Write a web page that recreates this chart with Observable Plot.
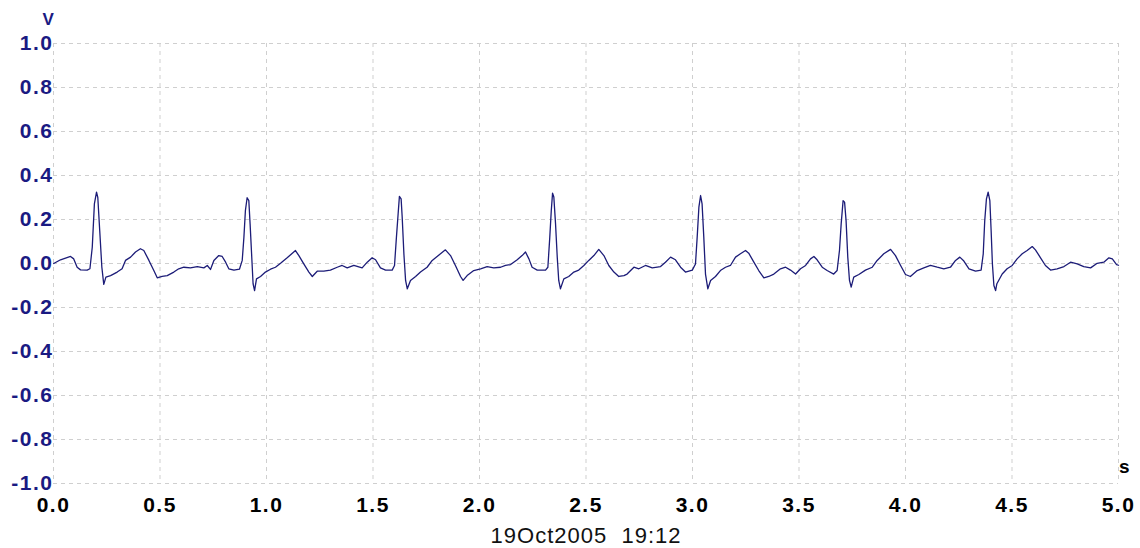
<!DOCTYPE html>
<html>
<head>
<meta charset="utf-8">
<script src="https://cdn.jsdelivr.net/npm/d3@7"></script>
<script src="https://cdn.jsdelivr.net/npm/@observablehq/plot@0.6"></script>
<style>
  html, body { margin: 0; padding: 0; background: #fff; }
  #chart svg text { white-space: pre; }
  #chart g[aria-label="x-axis tick label"] text,
  #chart g[aria-label="y-axis tick label"] text { letter-spacing: 1.5px; }
  #chart .caption text { letter-spacing: 1px; }
</style>
</head>
<body>
<div id="chart"></div>
<script>
// Time (s) and voltage (V)
const timeS = [
  0.001,0.033,0.080,0.095,0.111,0.127,0.158,0.171,0.182,0.192,0.202,0.208,0.217,0.227,0.236,0.246,0.268,0.299,0.322,0.338,
  0.362,0.385,0.408,0.424,0.448,0.471,0.487,0.510,0.534,0.565,0.588,0.612,0.643,0.675,0.706,0.722,0.737,0.753,0.776,0.792,
  0.808,0.823,0.847,0.873,0.886,0.894,0.901,0.909,0.917,0.923,0.930,0.937,0.944,0.953,0.972,0.995,1.019,1.042,1.066,1.097,
  1.136,1.152,1.175,1.199,1.215,1.238,1.269,1.300,1.332,1.355,1.379,1.410,1.449,1.473,1.496,1.512,1.535,1.559,1.590,1.601,
  1.610,1.618,1.624,1.632,1.637,1.645,1.653,1.661,1.676,1.700,1.723,1.754,1.778,1.801,1.840,1.864,1.887,1.911,1.923,1.942,
  1.973,2.005,2.036,2.067,2.099,2.122,2.146,2.177,2.200,2.216,2.232,2.247,2.271,2.310,2.321,2.330,2.337,2.343,2.349,2.357,
  2.365,2.372,2.380,2.396,2.419,2.443,2.466,2.490,2.513,2.537,2.560,2.584,2.607,2.631,2.654,2.678,2.693,2.725,2.748,2.779,
  2.811,2.850,2.873,2.897,2.920,2.944,2.967,2.999,3.014,3.022,3.030,3.038,3.045,3.053,3.061,3.072,3.085,3.108,3.131,3.155,
  3.178,3.202,3.225,3.249,3.264,3.288,3.311,3.335,3.358,3.382,3.413,3.437,3.460,3.484,3.507,3.531,3.554,3.570,3.585,3.609,
  3.632,3.663,3.679,3.690,3.698,3.707,3.714,3.721,3.729,3.737,3.745,3.757,3.781,3.812,3.844,3.867,3.898,3.930,3.953,3.977,
  4.000,4.023,4.055,4.086,4.117,4.149,4.180,4.211,4.235,4.255,4.274,4.298,4.329,4.355,4.365,4.372,4.380,4.388,4.396,4.402,
  4.408,4.415,4.423,4.429,4.454,4.477,4.501,4.524,4.548,4.571,4.595,4.610,4.634,4.657,4.681,4.712,4.744,4.775,4.806,4.837,
  4.869,4.900,4.931,4.955,4.971,4.991,5.000
];
const voltage = [
  0.000,0.017,0.032,0.021,-0.017,-0.029,-0.030,-0.024,0.074,0.271,0.324,0.300,0.150,-0.017,-0.095,-0.062,-0.055,-0.039,-0.024,0.014,
  0.029,0.052,0.067,0.059,0.014,-0.032,-0.065,-0.059,-0.055,-0.039,-0.024,-0.017,-0.020,-0.014,-0.020,-0.009,-0.027,0.014,0.036,0.032,
  0.006,-0.024,-0.030,-0.026,0.014,0.120,0.241,0.299,0.286,0.180,0.044,-0.092,-0.123,-0.070,-0.059,-0.039,-0.026,-0.017,0.001,0.026,
  0.059,0.036,-0.002,-0.039,-0.059,-0.035,-0.035,-0.030,-0.017,-0.009,-0.020,-0.009,-0.020,0.006,0.026,0.017,-0.020,-0.030,-0.030,-0.009,
  0.120,0.226,0.305,0.294,0.211,0.044,-0.077,-0.115,-0.077,-0.059,-0.039,-0.017,0.014,0.032,0.062,0.036,-0.009,-0.059,-0.077,-0.055,
  -0.032,-0.024,-0.014,-0.020,-0.017,-0.009,-0.005,0.017,0.036,0.052,0.021,-0.017,-0.030,-0.030,-0.017,0.120,0.241,0.320,0.302,0.180,
  0.029,-0.077,-0.115,-0.070,-0.059,-0.039,-0.030,-0.009,0.014,0.036,0.064,0.036,-0.009,-0.039,-0.059,-0.055,-0.048,-0.017,-0.024,-0.009,
  -0.020,-0.014,0.006,0.029,0.017,-0.017,-0.039,-0.030,-0.002,0.120,0.256,0.309,0.271,0.120,-0.048,-0.115,-0.077,-0.059,-0.032,-0.017,
  -0.009,0.029,0.044,0.059,0.047,0.006,-0.032,-0.065,-0.059,-0.048,-0.024,-0.017,-0.030,-0.048,-0.024,-0.009,0.021,0.032,0.017,-0.017,
  -0.032,-0.048,-0.032,0.059,0.180,0.286,0.279,0.195,0.029,-0.077,-0.107,-0.062,-0.050,-0.030,-0.017,0.014,0.044,0.064,0.036,-0.009,
  -0.050,-0.059,-0.032,-0.020,-0.009,-0.017,-0.024,-0.017,0.014,0.029,0.011,-0.024,-0.035,-0.030,0.044,0.195,0.294,0.324,0.286,0.150,
  -0.002,-0.100,-0.123,-0.092,-0.048,-0.024,-0.009,0.021,0.044,0.059,0.077,0.062,0.026,-0.009,-0.030,-0.024,-0.014,0.006,-0.002,-0.014,
  -0.020,0.001,0.006,0.026,0.021,-0.005,-0.008
];
const xTicks = [0, 0.5, 1, 1.5, 2, 2.5, 3, 3.5, 4, 4.5, 5];
const yTicks = [-1, -0.8, -0.6, -0.4, -0.2, 0, 0.2, 0.4, 0.6, 0.8, 1];
const yUnit = "V";
const xUnit = "s";
const caption = "19Oct2005  19:12";

const trace = timeS.map((t, i) => ({t, v: voltage[i]}));
const navy = "#1a1a82";
const gridColor = "#cfcfcf";

const chart = Plot.plot({
  width: 1140,
  height: 548,
  marginLeft: 53,
  marginRight: 22,
  marginTop: 43,
  marginBottom: 65,
  style: {fontFamily: "'Liberation Sans', Arial, sans-serif", background: "#fff", overflow: "visible"},
  x: {domain: [0, 5], label: null},
  y: {domain: [-1, 1], label: null},
  marks: [
    Plot.gridX(xTicks, {stroke: gridColor, strokeOpacity: 1, strokeDasharray: "4,4"}),
    Plot.gridY(yTicks, {stroke: gridColor, strokeOpacity: 1, strokeDasharray: "4,4"}),
    Plot.axisX(xTicks, {tickSize: 0, tickPadding: 14, tickFormat: d => d.toFixed(1), fontSize: 21, fontWeight: "bold", color: "#000", label: null}),
    Plot.axisY(yTicks, {tickSize: 0, tickPadding: 0, tickFormat: d => d.toFixed(1), fontSize: 21, fontWeight: "bold", color: navy, label: null}),
    Plot.line(trace, {x: "t", y: "v", stroke: "#1c1c78", strokeWidth: 1.3, curve: "linear"}),
    Plot.text([yUnit], {frameAnchor: "top-left", dx: -11, dy: -31, fontSize: 17, fontWeight: "bold", fill: navy}),
    Plot.text([xUnit], {frameAnchor: "bottom-right", dx: 11, dy: -11, fontSize: 19, fontWeight: "bold", fill: "#000"}),
    Plot.text([caption], {frameAnchor: "bottom", dy: 59, fontSize: 22, fill: "#111", className: "caption"})
  ]
});
document.getElementById("chart").appendChild(chart);
</script>
</body>
</html>
